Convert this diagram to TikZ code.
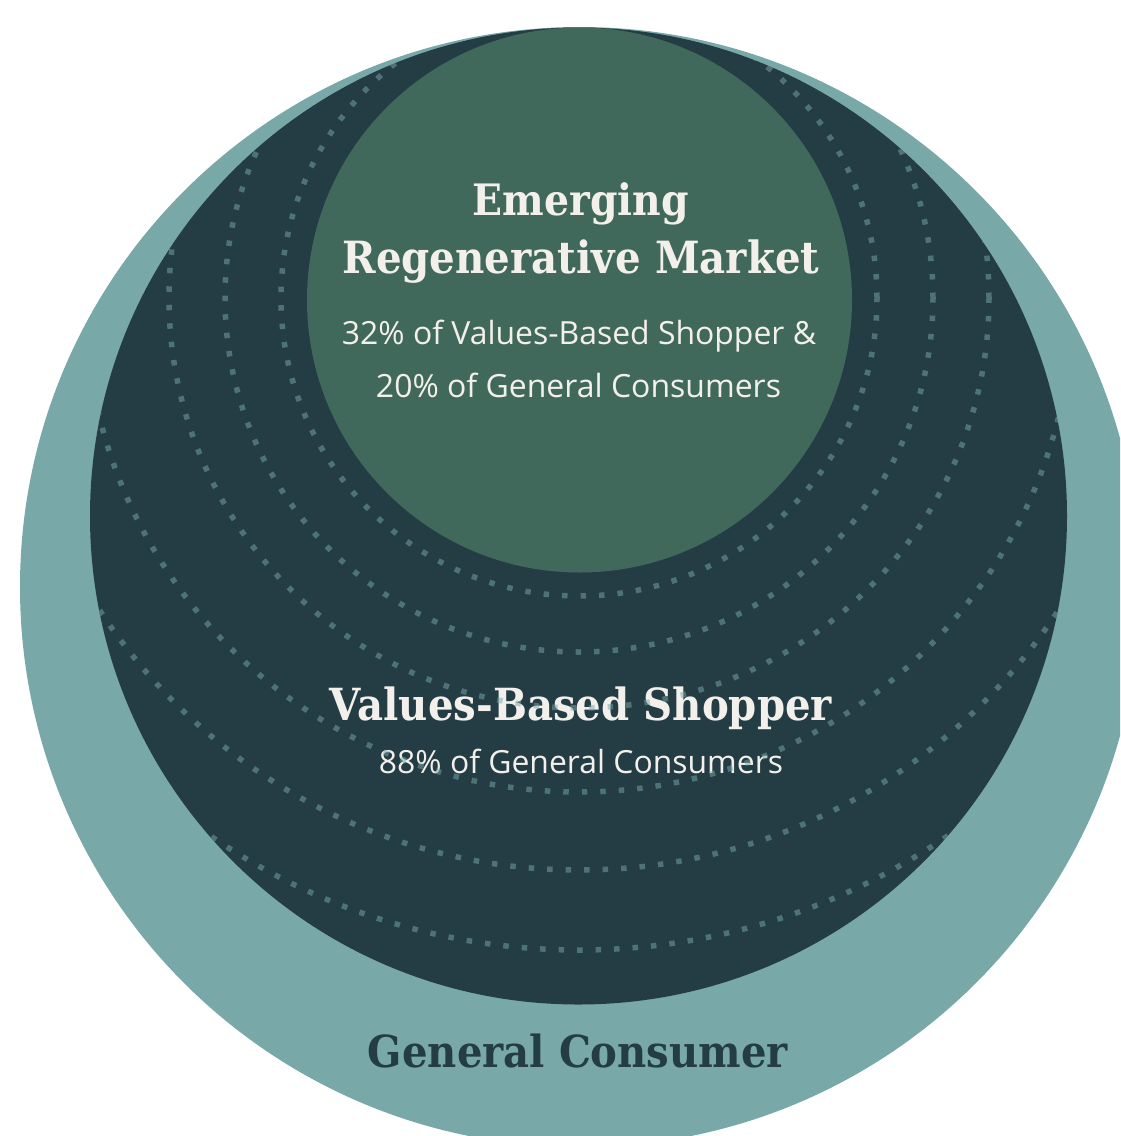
\documentclass[tikz,border=0pt]{standalone}
\usepackage{fontspec}
\usepackage{graphicx}
\setmainfont{DejaVu Serif}
\newfontfamily\bodyfont{Open Sans}
\definecolor{gcteal}{HTML}{78A8A8}
\definecolor{vbsdark}{HTML}{243D45}
\definecolor{regreen}{HTML}{41695B}
\definecolor{txtlight}{HTML}{F3F0EB}
\newcommand{\headfit}[2]{\scalebox{1}[1.1]{\resizebox{#1}{!}{#2}}}
\tikzset{
  disc/.style={circle, inner sep=0pt, outer sep=0pt, draw=none},
  headtxt/.style={font=\bfseries, text=txtlight, inner sep=0pt, anchor=base},
  bodytxt/.style={font=\bodyfont, text=txtlight, inner sep=0pt, anchor=base},
  dotring/.style={draw=gcteal, draw opacity=0.5, line width=5.5pt, dash pattern=on 5.5pt off 13pt},
}
\begin{document}
\begin{tikzpicture}[x=1pt,y=-1pt]
\useasboundingbox (0,0) rectangle (1120,1136);
\begin{scope}
\clip (0,0) rectangle (1120,1136);
% outer: General Consumer
\node[disc, fill=gcteal, minimum size=1120pt] (general) at (580,587) {};
% middle: Values-Based Shopper
\node[disc, fill=vbsdark, minimum size=977pt] (values) at (578.5,516) {};
% inner: Emerging Regenerative Market
\node[disc, fill=regreen, minimum size=545pt] (emergingdisc) at (579.5,300) {};
\coordinate (ringc) at (579,298);
\end{scope}
% texts
\node[headtxt] (t1) at (581,215) {\headfit{216pt}{Emerging}};
\node[headtxt] (t2) at (581,273) {\headfit{477pt}{Regenerative Market}};
\node[bodytxt] (t3) at (579,344) {\resizebox{474pt}{!}{32\% of Values-Based Shopper \&}};
\node[bodytxt] (t4) at (578.5,397) {\resizebox{405pt}{!}{20\% of General Consumers}};
\node[headtxt] (t5) at (581,720) {\headfit{502pt}{Values-Based Shopper}};
\node[bodytxt] (t6) at (581,773) {\resizebox{404pt}{!}{88\% of General Consumers}};
\node[headtxt, text=vbsdark] (t7) at (578,1067) {\headfit{420pt}{General Consumer}};
% dotted rings, clipped to the middle disc
\begin{scope}
\clip (values.center) circle (488.5pt);
\foreach \r in {298,354,410,494,572,652}{
  \draw[dotring] (ringc) circle (\r pt);
}
\end{scope}
\end{tikzpicture}
\end{document}
